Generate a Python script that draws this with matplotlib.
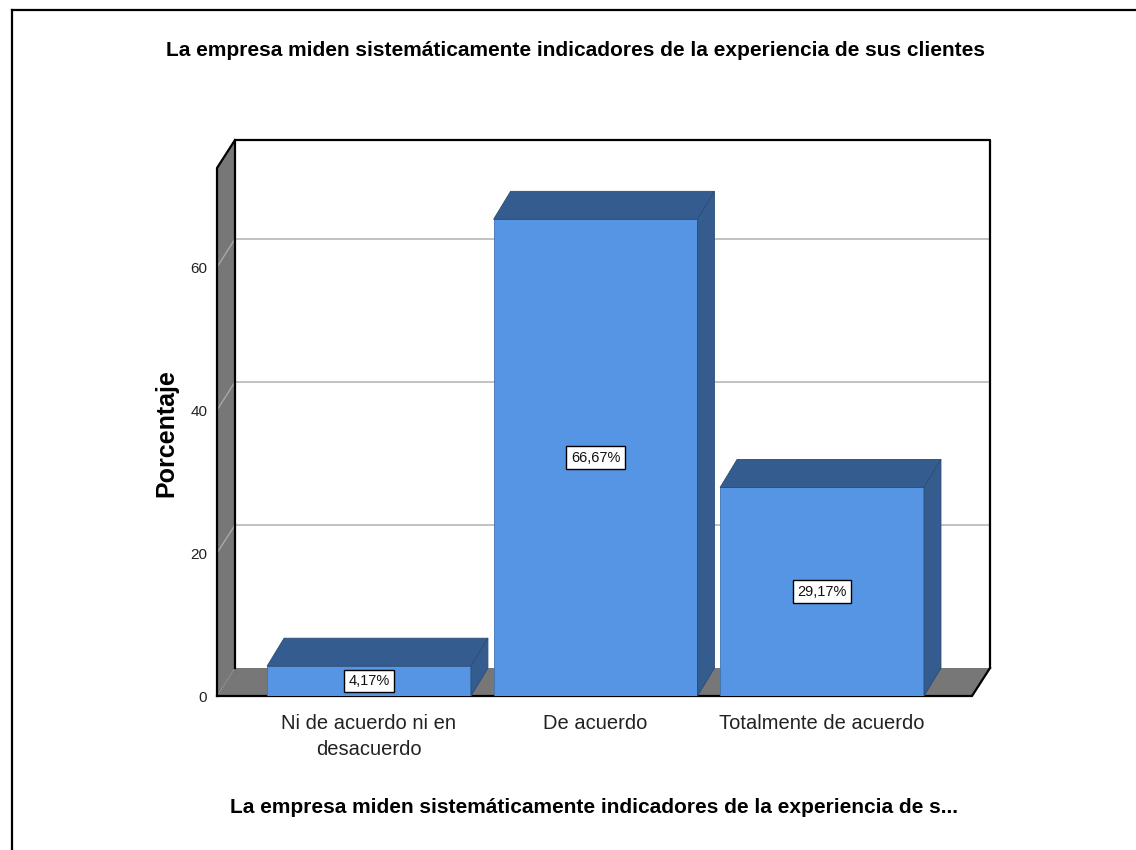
import matplotlib
matplotlib.use('Agg')
import matplotlib.pyplot as plt
from matplotlib.patches import Polygon, Rectangle
from matplotlib.lines import Line2D
import numpy as np

categories = ["Ni de acuerdo ni en\ndesacuerdo", "De acuerdo", "Totalmente de acuerdo"]
percentages = [4.17, 66.67, 29.17]
value_labels = ["4,17%", "66,67%", "29,17%"]
y_ticks = [0, 20, 40, 60]
title = "La empresa miden sistemáticamente indicadores de la experiencia de sus clientes"
x_title = "La empresa miden sistemáticamente indicadores de la experiencia de s..."
y_title = "Porcentaje"

plt.rcParams['font.family'] = ['Liberation Sans', 'DejaVu Sans']

W, H = 1136, 850
fig = plt.figure(figsize=(W / 100, H / 100), dpi=100)
fig.patch.set_facecolor('white')

ax = fig.add_axes([217 / W, 154 / H, 755 / W, 528 / H])
x0, x1 = -0.671, 2.662
ymax = 73.85
ax.set_xlim(x0, x1)
ax.set_ylim(0, ymax)
ax.patch.set_visible(False)
for s in ax.spines.values():
    s.set_visible(False)


def px_to_data(dxp, dyp):
    o = ax.transData.transform((0, 0))
    d = ax.transData.inverted().transform(o + np.array([dxp, dyp]))
    return d[0], d[1]


wdx, wdy = px_to_data(18, 28)
bdx, bdy = px_to_data(17, 28)

wall_gray = '#777777'
front_blue = '#5595E3'
dark_blue = '#345C8E'
grid_gray = '#BDBDBD'

# back wall
ax.add_patch(Rectangle((x0 + wdx, wdy), x1 - x0, ymax, facecolor='white',
                       edgecolor='none', zorder=0, clip_on=False))
# left wall
ax.add_patch(Polygon([(x0, 0), (x0, ymax), (x0 + wdx, ymax + wdy), (x0 + wdx, wdy)],
                     closed=True, facecolor=wall_gray, edgecolor='none', zorder=1, clip_on=False))
# floor
ax.add_patch(Polygon([(x0, 0), (x1, 0), (x1 + wdx, wdy), (x0 + wdx, wdy)],
                     closed=True, facecolor=wall_gray, edgecolor='none', zorder=1, clip_on=False))

# gridlines
for v in y_ticks[1:]:
    ax.add_line(Line2D([x0 + wdx, x1 + wdx], [v + wdy, v + wdy], color=grid_gray, lw=1.3,
                       zorder=0.5, clip_on=False))
    ax.add_line(Line2D([x0, x0 + wdx], [v, v + wdy], color='#A8A8A8', lw=1.0,
                       zorder=1.5, clip_on=False))

# edges
edge_kw = dict(color='black', lw=1.6, zorder=2, clip_on=False, solid_capstyle='projecting')
ax.add_line(Line2D([x0 + wdx, x0 + wdx, x1 + wdx, x1 + wdx],
                   [wdy, ymax + wdy, ymax + wdy, wdy], **edge_kw))
ax.add_line(Line2D([x0, x0, x0 + wdx], [0, ymax, ymax + wdy], **edge_kw))
ax.add_line(Line2D([x0, x1, x1 + wdx], [0, 0, wdy], **edge_kw))

# bars
xs = np.arange(len(categories))
width = 0.9
ax.bar(xs, percentages, width=width, color=front_blue, edgecolor='#3F72B5',
       linewidth=0.6, zorder=5)
for x, h in zip(xs, percentages):
    xl, xr = x - width / 2, x + width / 2
    ax.add_patch(Polygon([(xl, h), (xr, h), (xr + bdx, h + bdy), (xl + bdx, h + bdy)],
                         closed=True, facecolor=dark_blue, edgecolor='#2B4C75', lw=0.6,
                         zorder=5, clip_on=False))
    ax.add_patch(Polygon([(xr, 0), (xr, h), (xr + bdx, h + bdy), (xr + bdx, bdy)],
                         closed=True, facecolor=dark_blue, edgecolor='#2B4C75', lw=0.6,
                         zorder=5, clip_on=False))

for x, h, lab in zip(xs, percentages, value_labels):
    ax.text(x, h / 2, lab, ha='center', va='center', fontsize=10.5, zorder=10,
            color='#111111',
            bbox=dict(boxstyle='square,pad=0.3', fc='white', ec='black', lw=1.0))

ax.set_yticks(y_ticks)
ax.set_yticklabels([str(t) for t in y_ticks])
ax.tick_params(axis='y', length=0, pad=7, labelsize=11, labelcolor='#222222')
ax.set_xticks(xs)
ax.set_xticklabels(categories, fontsize=14.5, color='#222222', linespacing=1.45)
ax.tick_params(axis='x', length=0, pad=13)

ax.set_xlabel(x_title, fontsize=15, fontweight='bold', labelpad=28, color='black')
fig.text(166 / W, 1 - 433 / H, y_title, rotation=90, ha='center', va='center',
         fontsize=18, fontweight='bold')
fig.text(575 / W, 1 - 50 / H, title, ha='center', va='center', fontsize=15,
         fontweight='bold')

# outer frame (left and top)
fig.add_artist(Line2D([12 / W, 12 / W], [0, 1 - 10 / H], color='black', lw=1.6,
                      transform=fig.transFigure))
fig.add_artist(Line2D([12 / W, 1], [1 - 10 / H, 1 - 10 / H], color='black', lw=1.6,
                      transform=fig.transFigure))

fig.savefig('out.png', dpi=100)
